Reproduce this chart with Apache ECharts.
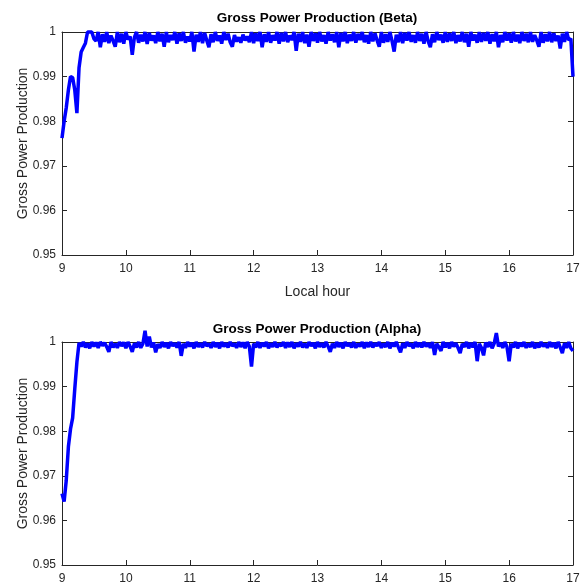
<!DOCTYPE html>
<html>
<head>
<meta charset="utf-8">
<script src="https://cdn.jsdelivr.net/npm/echarts@6/dist/echarts.min.js"></script>
<style>
html,body{margin:0;padding:0;background:#fff;}
#chart{width:587px;height:587px;}
</style>
</head>
<body>
<div id="chart"></div>
<script>
// Sampling: one reading every 2 minutes from 9:00 to 17:00
const startHour = 9;
const sampleMinutes = 2;

const titles = ['Gross Power Production (Beta)', 'Gross Power Production (Alpha)'];
const yAxisName = 'Gross Power Production';
const xAxisName = 'Local hour';
const xTicks = [9, 10, 11, 12, 13, 14, 15, 16, 17];
const yTicks = [0.95, 0.96, 0.97, 0.98, 0.99, 1];

const betaValues = [
0.9762,0.9800,0.9830,0.9870,0.9900,0.9898,0.9870,0.9818,0.9920,0.9955,
0.9965,0.9975,1.0000,1.0000,1.0000,0.9985,0.9980,1.0000,0.9966,0.9995,
0.9978,1.0000,0.9975,0.9992,0.9980,0.9967,1.0000,0.9977,0.9996,0.9974,
1.0000,0.9983,0.9990,0.9949,0.9988,1.0000,0.9976,0.9994,0.9979,1.0000,
0.9973,0.9998,0.9981,0.9992,0.9975,1.0000,0.9979,0.9996,0.9967,1.0000,
0.9977,0.9993,0.9982,1.0000,0.9974,0.9997,0.9980,1.0000,0.9976,0.9990,
0.9979,1.0000,0.9956,0.9994,0.9978,1.0000,0.9975,0.9998,0.9981,0.9966,
0.9995,0.9977,1.0000,0.9980,0.9992,0.9974,1.0000,0.9982,0.9996,0.9977,
0.9967,0.9993,0.9979,0.9988,0.9976,0.9994,0.9981,0.9990,0.9977,1.0000,
0.9975,0.9997,0.9980,1.0000,0.9966,0.9995,0.9978,1.0000,0.9976,0.9993,
0.9981,1.0000,0.9974,0.9998,0.9979,1.0000,0.9977,0.9992,0.9982,1.0000,
0.9958,0.9996,0.9978,1.0000,0.9975,0.9994,0.9967,1.0000,0.9980,0.9997,
0.9976,1.0000,0.9979,0.9993,0.9974,1.0000,0.9981,0.9995,0.9977,1.0000,
0.9966,0.9998,0.9979,1.0000,0.9975,0.9994,0.9980,1.0000,0.9976,0.9996,
0.9982,1.0000,0.9977,0.9993,0.9974,1.0000,0.9979,0.9997,0.9981,0.9967,
1.0000,0.9976,0.9995,0.9978,1.0000,0.9980,0.9956,0.9994,0.9977,1.0000,
0.9975,0.9998,0.9981,1.0000,0.9978,0.9993,0.9976,1.0000,0.9980,0.9996,
0.9974,1.0000,0.9979,0.9966,0.9995,0.9977,1.0000,0.9982,0.9994,0.9976,
1.0000,0.9978,0.9997,0.9980,1.0000,0.9975,0.9993,0.9979,1.0000,0.9977,
0.9996,0.9967,1.0000,0.9981,0.9994,0.9976,1.0000,0.9978,0.9998,0.9980,
1.0000,0.9974,0.9995,0.9979,1.0000,0.9966,0.9993,0.9977,1.0000,0.9981,
0.9997,0.9976,1.0000,0.9979,0.9994,0.9975,1.0000,0.9980,0.9996,0.9977,
1.0000,0.9978,0.9993,0.9981,0.9967,1.0000,0.9976,0.9995,0.9979,1.0000,
0.9977,0.9997,0.9980,0.9992,0.9963,0.9996,0.9978,1.0000,0.9982,0.9985,
0.9900
];

const alphaValues = [
0.9660,0.9642,0.9690,0.9765,0.9805,0.9830,0.9895,0.9955,0.9998,0.9990,
1.0000,0.9988,0.9997,0.9986,1.0000,0.9990,0.9999,0.9987,1.0000,0.9992,
0.9998,0.9989,0.9978,1.0000,0.9988,0.9996,0.9987,1.0000,0.9991,0.9999,
0.9986,1.0000,0.9990,0.9978,0.9997,0.9988,1.0000,0.9987,0.9996,1.0025,
0.9990,1.0012,0.9988,0.9999,0.9977,0.9995,0.9987,1.0000,0.9989,0.9998,
0.9986,1.0000,0.9991,0.9997,0.9988,1.0000,0.9969,0.9996,0.9987,1.0000,
0.9990,0.9998,0.9986,1.0000,0.9989,0.9997,0.9988,1.0000,0.9991,0.9996,
0.9987,1.0000,0.9989,0.9998,0.9986,1.0000,0.9990,0.9997,0.9988,1.0000,
0.9991,0.9996,0.9987,1.0000,0.9989,0.9999,0.9986,1.0000,0.9990,0.9945,
0.9996,0.9988,1.0000,0.9987,0.9998,0.9990,1.0000,0.9986,0.9997,0.9989,
1.0000,0.9988,0.9996,0.9991,1.0000,0.9987,0.9999,0.9989,1.0000,0.9986,
0.9997,0.9990,1.0000,0.9988,0.9996,0.9987,1.0000,0.9991,0.9998,0.9986,
1.0000,0.9989,0.9997,0.9988,1.0000,0.9990,0.9978,0.9996,0.9987,1.0000,
0.9989,0.9998,0.9986,1.0000,0.9991,0.9997,0.9988,1.0000,0.9987,0.9996,
0.9990,1.0000,0.9986,0.9999,0.9989,1.0000,0.9988,0.9997,0.9991,1.0000,
0.9987,0.9996,0.9989,1.0000,0.9986,0.9998,0.9990,1.0000,0.9988,0.9977,
0.9997,0.9987,1.0000,0.9991,0.9996,0.9986,1.0000,0.9989,0.9998,0.9988,
1.0000,0.9990,0.9997,0.9987,1.0000,0.9971,0.9996,0.9989,0.9980,1.0000,
0.9988,0.9998,0.9986,1.0000,0.9990,0.9997,0.9987,0.9975,0.9996,0.9989,
1.0000,0.9986,0.9998,0.9988,1.0000,0.9957,0.9996,0.9987,0.9970,0.9999,
0.9989,1.0000,0.9986,0.9997,1.0020,0.9990,0.9998,0.9987,1.0000,0.9989,
0.9957,0.9996,0.9988,1.0000,0.9986,0.9998,0.9990,1.0000,0.9987,0.9996,
0.9989,1.0000,0.9986,0.9997,0.9988,1.0000,0.9990,0.9996,0.9987,1.0000,
0.9989,0.9998,0.9986,1.0000,0.9988,0.9975,0.9997,0.9987,1.0000,0.9986,
0.9980
];

function toPairs(vals) {
  return vals.map((v, i) => [startHour + i * sampleMinutes / 60, v]);
}

const axisColor = '#262626';
const font = 'Liberation Sans, Arial, Helvetica, sans-serif';

const grids = [
  {left: 62, top: 32, width: 511, height: 223},
  {left: 62, top: 342, width: 511, height: 223}
];

function xAxes(gi, withName) {
  const base = {
    gridIndex: gi, type: 'value', min: xTicks[0], max: xTicks[xTicks.length - 1], interval: 1,
    axisLine: {show: true, lineStyle: {color: axisColor, width: 1}},
    axisTick: {show: true, inside: true, length: 5, lineStyle: {color: axisColor}},
    splitLine: {show: false}
  };
  return [
    Object.assign({}, base, {
      position: 'bottom',
      axisLabel: {color: axisColor, fontSize: 12, fontFamily: font, margin: 8},
      name: withName ? xAxisName : '',
      nameLocation: 'middle', nameGap: 30, nameMoveOverlap: false,
      nameTextStyle: {color: axisColor, fontSize: 14, fontFamily: font}
    }),
    Object.assign({}, base, {position: 'top', axisLabel: {show: false}})
  ];
}

function yAxes(gi) {
  const base = {
    gridIndex: gi, type: 'value', min: yTicks[0], max: yTicks[yTicks.length - 1], interval: 0.01,
    axisLine: {show: true, lineStyle: {color: axisColor, width: 1}},
    axisTick: {show: true, inside: true, length: 5, lineStyle: {color: axisColor}},
    splitLine: {show: false}
  };
  return [
    Object.assign({}, base, {
      position: 'left',
      axisLabel: {color: axisColor, fontSize: 12, fontFamily: font, margin: 6,
        formatter: v => String(Number(v.toFixed(2)))},
      name: yAxisName, nameLocation: 'middle', nameGap: 32, nameRotate: 90, nameMoveOverlap: false,
      nameTextStyle: {color: axisColor, fontSize: 14, fontFamily: font}
    }),
    Object.assign({}, base, {position: 'right', axisLabel: {show: false}})
  ];
}

const option = {
  animation: false,
  backgroundColor: '#ffffff',
  title: [
    {text: titles[0], left: 317, top: 11, textAlign: 'center', padding: 0,
      textStyle: {fontSize: 13.5, fontWeight: 'bold', color: '#000', fontFamily: font}},
    {text: titles[1], left: 317, top: 322, textAlign: 'center', padding: 0,
      textStyle: {fontSize: 13.5, fontWeight: 'bold', color: '#000', fontFamily: font}}
  ],
  grid: grids,
  xAxis: [...xAxes(0, true), ...xAxes(1, false)],
  yAxis: [...yAxes(0), ...yAxes(1)],
  series: [
    {type: 'line', xAxisIndex: 0, yAxisIndex: 0, data: toPairs(betaValues),
      showSymbol: false, clip: false, lineStyle: {color: '#0000ff', width: 3.5}, itemStyle: {color: '#0000ff'}},
    {type: 'line', xAxisIndex: 2, yAxisIndex: 2, data: toPairs(alphaValues),
      showSymbol: false, clip: false, lineStyle: {color: '#0000ff', width: 3.5}, itemStyle: {color: '#0000ff'}}
  ]
};

const chart = echarts.init(document.getElementById('chart'), null, {renderer: 'canvas'});
chart.setOption(option);
</script>
</body>
</html>
